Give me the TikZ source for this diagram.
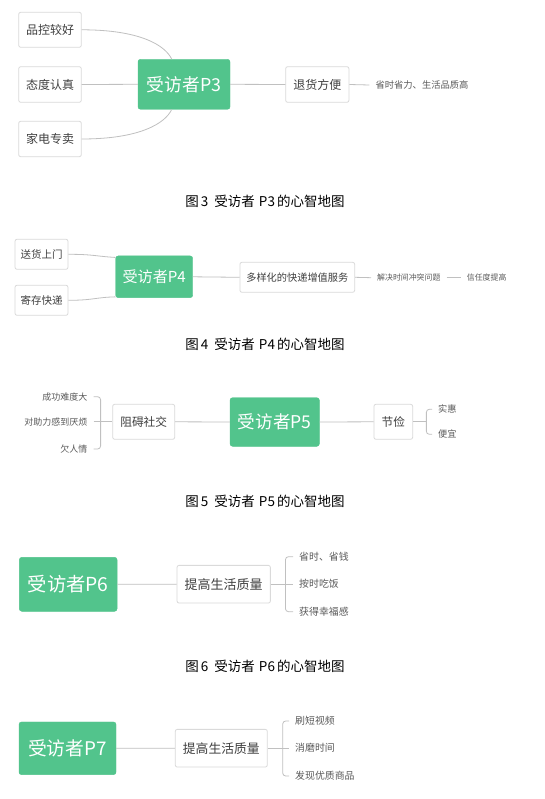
\documentclass[tikz,border=0pt]{standalone}
\usepackage{fontspec}
\setmainfont{Noto Sans CJK SC}
\usetikzlibrary{calc}
\definecolor{mmgreen}{RGB}{82,196,140}
\definecolor{mmborder}{RGB}{218,218,218}
\definecolor{mmline}{RGB}{192,192,192}
\definecolor{mmtext}{RGB}{64,64,64}
\definecolor{mmsmall}{RGB}{90,90,90}
\newcommand\mmfs[1]{\fontsize{#1}{#1}\selectfont}
\begin{document}
\begin{tikzpicture}[x=1pt,y=-1pt,
  root/.style={fill=mmgreen, draw=mmgreen, rounded corners=2.5pt, text=white, inner sep=0pt},
  box/.style={draw=mmborder, fill=white, rounded corners=2pt, text=mmtext, inner sep=0pt, line width=0.8pt},
  leaf/.style={text=mmsmall, inner ysep=0pt, inner xsep=6pt},
  conn/.style={draw=mmline, line width=0.8pt},
  figcap/.style={text=black, inner sep=0pt, font=\mmfs{13.5}}]
\useasboundingbox (0,0) rectangle (544,799);
\fill[white] (0,0) rectangle (544,799);

% ---------- P3 ----------
\node[root, minimum width=92, minimum height=50, font=\mmfs{17.8}] (c3) at (184,84.3) {受访者P3};
\node[box, minimum width=62.6, minimum height=35, font=\mmfs{12}] (a1) at (50,29.8) {品控较好};
\node[box, minimum width=62.6, minimum height=35.6, font=\mmfs{12}] (a2) at (50,84.5) {态度认真};
\node[box, minimum width=62.6, minimum height=35.4, font=\mmfs{12}] (a3) at (50,139) {家电专卖};
\node[box, minimum width=63.3, minimum height=35.6, font=\mmfs{12}] (r3) at (317.3,84.5) {退货方便};
\node[leaf, anchor=west, font=\mmfs{9.3}] (t3) at (369.3,85) {省时省力、生活品质高};
\draw[conn] (a1.east) .. controls ($(a1.east)+(58,0)$) and ($(c3.north)+(-19,-14)$) .. ($(c3.north)+(-12.3,0)$);
\draw[conn] (a3.east) .. controls ($(a3.east)+(58,0)$) and ($(c3.south)+(-19,14)$) .. ($(c3.south)+(-12.3,0)$);
\draw[conn] (a2.east) -- (c3.west);
\draw[conn] (c3.east) -- (r3.west);
\draw[conn] (r3.east) -- (t3.west);
\node[figcap] (cap3) at (265,201.7) {图\hspace{2pt}3\hspace{6pt}受访者\hspace{4pt}P3\hspace{2pt}的心智地图};

% ---------- P4 ----------
\node[root, minimum width=77, minimum height=41.7, font=\mmfs{15.1}] (c4) at (154.2,276.8) {受访者P4};
\node[box, minimum width=53, minimum height=30, font=\mmfs{10.5}] (b1) at (41.5,254.3) {送货上门};
\node[box, minimum width=53, minimum height=30, font=\mmfs{10.5}] (b2) at (41.5,300.3) {寄存快递};
\node[box, minimum width=114.7, minimum height=30, font=\mmfs{10.2}] (r4) at (297.3,277.3) {多样化的快递增值服务};
\node[leaf, anchor=west, font=\mmfs{7.9}] (t4a) at (371,277.7) {解决时间冲突问题};
\node[leaf, anchor=west, font=\mmfs{7.9}] (t4b) at (460.7,277.7) {信任度提高};
\draw[conn] (b1.east) .. controls ($(b1.east)+(25,0)$) and ($(c4.north west)+(-20,0.5)$) .. ($(c4.north west)+(0,1.7)$);
\draw[conn] (b2.east) .. controls ($(b2.east)+(25,0)$) and ($(c4.south west)+(-20,-0.5)$) .. ($(c4.south west)+(0,-1)$);
\draw[conn] (c4.east) -- (r4.west);
\draw[conn] (r4.east) -- (t4a.west);
\draw[conn] (t4a.east) -- (t4b.west);
\node[figcap] (cap4) at (265,344.3) {图\hspace{2pt}4\hspace{6pt}受访者\hspace{4pt}P4\hspace{2pt}的心智地图};

% ---------- P5 ----------
\node[root, minimum width=89.3, minimum height=48.6, font=\mmfs{17.6}] (c5) at (274.7,422) {受访者P5};
\node[box, minimum width=62, minimum height=35, font=\mmfs{11.7}] (s5) at (143.7,421.8) {阻碍社交};
\node[box, minimum width=38.7, minimum height=35, font=\mmfs{11.7}] (j5) at (393.3,421.8) {节俭};
\node[leaf, anchor=east, font=\mmfs{9}] (l1) at (93.5,396.7) {成功难度大};
\node[leaf, anchor=east, font=\mmfs{9}] (l2) at (93.5,421.8) {对助力感到厌烦};
\node[leaf, anchor=east, font=\mmfs{9}] (l3) at (93.5,449) {欠人情};
\node[leaf, anchor=west, font=\mmfs{9.2}] (m1) at (432,409.3) {实惠};
\node[leaf, anchor=west, font=\mmfs{9.2}] (m2) at (432,434.3) {便宜};
\draw[conn, rounded corners=3pt] (l1.east) -| ($(s5.west)+(-11.7,0)$) |- (l3.east);
\draw[conn] (l2.east) -- (s5.west);
\draw[conn] (s5.east) -- (c5.west);
\draw[conn] (c5.east) -- (j5.west);
\draw[conn, rounded corners=3pt] (m1.west) -| ($(j5.east)+(13.3,0)$) |- (m2.west);
\draw[conn] (j5.east) -- ($(j5.east)+(13.3,0)$);
\node[figcap] (cap5) at (265,501.7) {图\hspace{2pt}5\hspace{6pt}受访者\hspace{4pt}P5\hspace{2pt}的心智地图};

% ---------- P6 ----------
\node[root, minimum width=97.7, minimum height=54, font=\mmfs{19.3}] (c6) at (68.2,584.3) {受访者P6};
\node[box, minimum width=93.3, minimum height=37.7, font=\mmfs{13}] (q6) at (223.7,584.2) {提高生活质量};
\node[leaf, anchor=west, font=\mmfs{9.9}] (n1) at (293,556.7) {省时、省钱};
\node[leaf, anchor=west, font=\mmfs{9.9}] (n2) at (293,584.2) {按时吃饭};
\node[leaf, anchor=west, font=\mmfs{9.9}] (n3) at (293,611.7) {获得幸福感};
\draw[conn] (c6.east) -- (q6.west);
\draw[conn, rounded corners=3pt] (n1.west) -| ($(q6.east)+(14.7,0)$) |- (n3.west);
\draw[conn] (q6.east) -- (n2.west);
\node[figcap] (cap6) at (265,666.7) {图\hspace{2pt}6\hspace{6pt}受访者\hspace{4pt}P6\hspace{2pt}的心智地图};

% ---------- P7 ----------
\node[root, minimum width=97, minimum height=52.7, font=\mmfs{18.8}] (c7) at (67.5,748.3) {受访者P7};
\node[box, minimum width=92, minimum height=37.7, font=\mmfs{12.8}] (q7) at (221.3,748.2) {提高生活质量};
\node[leaf, anchor=west, font=\mmfs{9.9}] (o1) at (289,721) {刷短视频};
\node[leaf, anchor=west, font=\mmfs{9.9}] (o2) at (289,748.2) {消磨时间};
\node[leaf, anchor=west, font=\mmfs{9.9}] (o3) at (289,776) {发现优质商品};
\draw[conn] (c7.east) -- (q7.west);
\draw[conn, rounded corners=3pt] (o1.west) -| ($(q7.east)+(15,0)$) |- (o3.west);
\draw[conn] (q7.east) -- (o2.west);
\end{tikzpicture}
\end{document}
